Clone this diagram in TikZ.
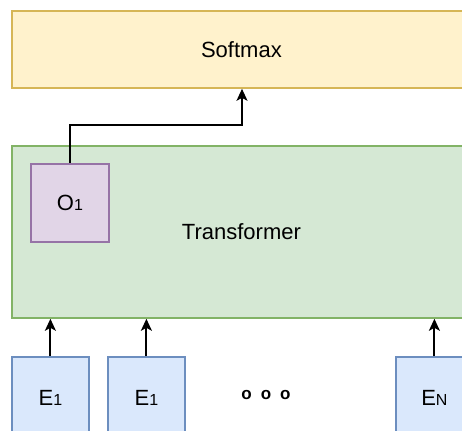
\documentclass[tikz,border=0pt]{standalone}
\usepackage{fontspec}
\setmainfont{Liberation Sans}
\usetikzlibrary{arrows.meta}
\definecolor{smfill}{HTML}{FFF2CC}
\definecolor{smline}{HTML}{D6B656}
\definecolor{trfill}{HTML}{D5E8D4}
\definecolor{trline}{HTML}{82B366}
\definecolor{ofill}{HTML}{E1D5E7}
\definecolor{oline}{HTML}{9673A6}
\definecolor{efill}{HTML}{DAE8FC}
\definecolor{eline}{HTML}{6C8EBF}
\tikzset{
  box/.style={rectangle, line width=1.8pt, inner sep=0pt, anchor=north west,
    font=\fontsize{22}{26}\selectfont},
  smbox/.style={box, fill=smfill, draw=smline},
  trbox/.style={box, fill=trfill, draw=trline},
  obox/.style={box, fill=ofill, draw=oline},
  ebox/.style={box, fill=efill, draw=eline},
  arr/.style={line width=1.9pt, -{Stealth[length=12pt,width=11pt,inset=3pt]}}
}
\newcommand{\sm}[1]{{\fontsize{16}{18}\selectfont #1}}
\begin{document}
\begin{tikzpicture}[x=1pt,y=-1pt]
\useasboundingbox (0,0) rectangle (462,430);
\clip (0,0) rectangle (462,430);
\node[smbox, minimum width=459pt, minimum height=77pt] (softmax) at (11,10) {Softmax};
\node[trbox, minimum width=459pt, minimum height=172pt] (tr) at (11,145) {Transformer};
\node[obox, minimum width=78pt, minimum height=78pt] (o1) at (30,163) {O\sm{1}};
\node[ebox, minimum width=77pt, minimum height=82pt] (e1) at (11,356) {E\sm{1}};
\node[ebox, minimum width=77pt, minimum height=82pt] (e2) at (107,356) {E\sm{1}};
\node[ebox, minimum width=77pt, minimum height=82pt] (en) at (395,356) {E\sm{N}};
\node[font=\fontsize{17}{18}\selectfont\bfseries, inner sep=0pt] (dots) at (266,395) {o\hspace{9pt}o\hspace{9pt}o};
\coordinate (bend) at (242,125);
\draw[arr] (o1.north) |- (bend) -- (bend |- softmax.south);
\draw[arr] (e1.north) -- (e1.north |- tr.south);
\draw[arr] (e2.north) -- (e2.north |- tr.south);
\draw[arr] (en.north) -- (en.north |- tr.south);
\end{tikzpicture}
\end{document}
